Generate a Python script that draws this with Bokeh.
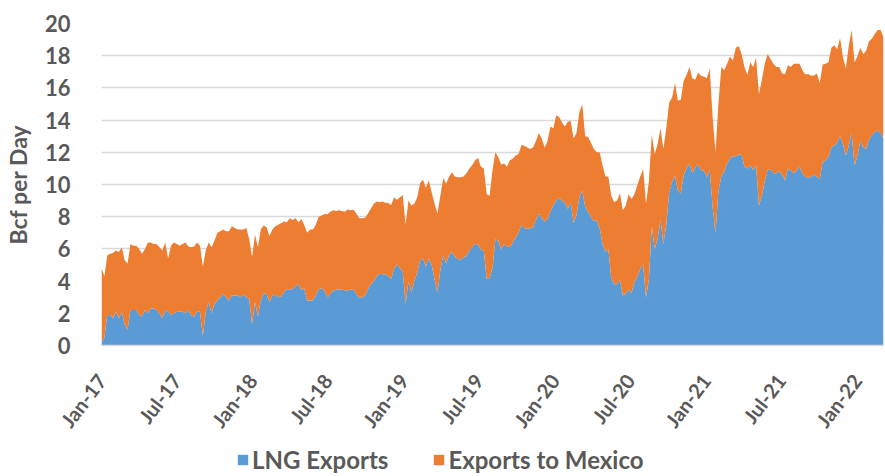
import numpy as np
import pandas as pd
from bokeh.plotting import figure
from bokeh.layouts import column
from bokeh.models import (ColumnDataSource, FixedTicker, Legend, LegendItem,
                          Range1d, DatetimeTickFormatter)
from bokeh.embed import file_html
from bokeh.resources import INLINE

# ---- data (weekly, Bcf per day) ----
first_week = "2017-01-01"

lng_exports = [
    0.2, 0.5, 1.9, 1.9, 1.7, 2.1, 1.7, 2.1, 1.3, 1.0,
    2.2, 2.2, 2.2, 1.9, 1.8, 2.2, 2.0, 2.3, 2.3, 2.2,
    2.0, 1.7, 2.2, 2.1, 1.9, 2.0, 2.1, 2.1, 2.1, 2.0,
    2.2, 1.85, 1.8, 2.1, 2.1, 0.6, 2.1, 2.7, 2.0, 2.6,
    2.8, 3.0, 3.2, 3.0, 2.8, 3.1, 3.1, 3.1, 3.0, 3.15,
    3.0, 2.9, 1.3, 2.7, 1.8, 2.8, 3.25, 3.2, 2.7, 3.1,
    3.15, 3.0, 3.05, 3.3, 3.5, 3.5, 3.5, 3.7, 3.8, 3.45,
    3.55, 2.8, 2.8, 2.8, 3.1, 3.5, 3.56, 3.4, 2.98, 3.2,
    3.4, 3.48, 3.5, 3.47, 3.43, 3.42, 3.48, 3.48, 3.2, 2.96,
    3.0, 3.1, 3.5, 3.8, 4.0, 4.3, 4.45, 4.42, 4.42, 4.3,
    4.15, 4.75, 5.05, 4.8, 4.6, 2.6, 4.0, 3.3, 4.0, 4.5,
    5.3, 5.4, 4.9, 5.4, 5.0, 4.1, 3.3, 4.7, 5.6, 5.1,
    5.6, 5.8, 5.5, 5.4, 5.3, 5.5, 5.55, 5.9, 6.1, 6.3,
    6.27, 5.94, 5.9, 4.15, 4.2, 4.8, 6.6, 6.5, 5.95, 6.3,
    6.15, 6.1, 6.4, 6.7, 7.0, 7.5, 7.3, 7.25, 7.28, 7.35,
    7.8, 8.2, 7.9, 7.7, 7.85, 8.3, 8.7, 9.0, 9.15, 9.0,
    8.85, 8.5, 8.9, 7.6, 8.1, 9.2, 9.63, 8.6, 8.3, 7.97,
    7.75, 7.76, 7.3, 6.3, 5.8, 6.0, 4.2, 3.8, 3.8, 4.08,
    3.1, 3.2, 3.5, 3.25, 3.93, 4.24, 4.74, 5.03, 3.0, 4.1,
    7.4, 6.0, 6.6, 7.8, 6.3, 7.5, 9.5, 10.15, 10.55, 9.63,
    9.46, 10.56, 11.0, 11.3, 10.7, 11.05, 11.24, 10.9, 10.85, 10.45,
    10.9, 8.6, 7.0, 9.6, 10.5, 10.8, 11.3, 11.6, 11.75, 11.75,
    11.85, 11.85, 11.1, 11.0, 11.2, 10.9, 11.2, 8.7, 9.3, 10.2,
    10.9, 10.95, 10.7, 10.7, 10.8, 10.6, 10.25, 11.0, 10.87, 10.7,
    10.85, 11.1, 10.7, 10.5, 10.4, 10.5, 10.6, 10.48, 10.35, 11.4,
    11.5, 11.7, 12.3, 12.42, 12.6, 13.0, 12.5, 11.8, 12.4, 13.2,
    11.2, 11.8, 12.7, 12.3, 12.2, 12.8, 13.04, 13.25, 13.35, 13.2,
    12.85,
]

# top of the stack (LNG + exports to Mexico)
total_exports = [
    4.8, 4.3, 5.6, 5.7, 5.75, 5.9, 5.8, 6.1, 5.3, 5.1,
    6.3, 6.2, 6.2, 6.0, 5.7, 6.0, 6.4, 6.4, 6.3, 6.3,
    6.1, 5.9, 6.4, 5.4, 6.2, 6.4, 6.3, 6.2, 6.3, 6.4,
    6.15, 6.1, 6.15, 6.4, 6.2, 4.9, 5.9, 6.4, 6.1, 6.5,
    7.0, 7.1, 7.2, 7.1, 7.1, 7.4, 7.3, 7.2, 7.2, 7.2,
    7.3, 6.6, 5.5, 6.9, 6.1, 7.2, 7.45, 7.35, 6.8, 7.2,
    7.4, 7.5, 7.6, 7.7, 7.65, 7.9, 7.8, 7.9, 7.65, 7.85,
    7.5, 7.0, 7.2, 7.2, 7.5, 8.0, 8.07, 8.17, 8.15, 8.3,
    8.4, 8.35, 8.4, 8.35, 8.3, 8.45, 8.4, 8.43, 8.2, 7.9,
    7.9, 7.93, 8.2, 8.5, 8.8, 8.95, 8.9, 8.95, 8.87, 8.85,
    8.72, 9.2, 9.05, 9.2, 9.35, 7.5, 9.0, 8.7, 8.8, 9.2,
    10.1, 10.3, 9.8, 10.25, 9.5, 8.8, 8.2, 9.3, 10.4, 10.05,
    10.5, 10.75, 10.5, 10.45, 10.45, 10.5, 10.7, 11.0, 11.2, 11.5,
    11.65, 11.1, 11.0, 9.4, 9.3, 10.9, 12.0, 11.7, 11.25, 11.3,
    11.1, 11.5, 11.6, 11.8, 11.9, 12.45, 12.4, 12.3, 12.2, 12.3,
    12.7, 13.2, 12.85, 12.3, 12.7, 13.6, 13.5, 14.3, 14.2, 13.85,
    13.6, 13.9, 13.95, 12.85, 13.2, 14.5, 14.97, 13.0, 12.95, 12.6,
    12.2, 12.0, 12.0, 11.2, 10.5, 10.5, 9.3, 8.9, 9.0, 9.46,
    8.4, 8.7, 9.4, 9.1, 9.4, 9.95, 10.5, 10.97, 8.8, 10.2,
    13.1, 11.9, 12.5, 13.5, 12.2, 13.5, 15.1, 15.4, 16.3, 15.2,
    15.26, 16.45, 16.8, 17.3, 16.6, 16.5, 16.95, 16.75, 16.7, 16.6,
    17.2, 14.2, 12.0, 15.0, 17.3, 17.1, 17.5, 17.95, 17.7, 18.5,
    18.6, 18.1, 17.3, 16.8, 17.6, 17.3, 17.85, 15.6, 16.5, 17.5,
    18.1, 17.8, 17.5, 17.3, 17.3, 16.9, 16.85, 17.4, 17.3, 17.5,
    17.5, 17.5, 17.1, 16.83, 16.87, 16.75, 16.77, 16.9, 16.3, 17.45,
    17.5, 17.6, 18.5, 18.65, 18.4, 19.1, 17.9, 17.2, 18.6, 19.6,
    17.6, 17.95, 18.5, 18.1, 18.3, 18.9, 19.05, 19.35, 19.6, 19.6,
    19.15,
]

series_names = ["LNG Exports", "Exports to Mexico"]
series_colors = ["#5B9BD5", "#ED7D31"]

tick_dates = ["2017-01-01", "2017-07-01", "2018-01-01", "2018-07-01",
              "2019-01-01", "2019-07-01", "2020-01-01", "2020-07-01",
              "2021-01-01", "2021-07-01", "2022-01-01"]
tick_labels = ["Jan-17", "Jul-17", "Jan-18", "Jul-18", "Jan-19", "Jul-19",
               "Jan-20", "Jul-20", "Jan-21", "Jul-21", "Jan-22"]
y_ticks = [0, 2, 4, 6, 8, 10, 12, 14, 16, 18, 20]

# ---- build ----
dates = pd.date_range(first_week, periods=len(lng_exports), freq="7D")
lng = np.array(lng_exports, dtype=float)
mexico = np.array(total_exports, dtype=float) - lng
src = ColumnDataSource(dict(date=dates, lng=lng, mexico=mexico))

FONT = "Lato"
GREY = "#595959"
W = 885

p = figure(width=W, height=444, x_axis_type="datetime",
           output_backend="svg", toolbar_location=None,
           x_range=Range1d(dates[0].to_pydatetime(), dates[-1].to_pydatetime()),
           y_range=Range1d(0, 20),
           min_border_left=95, min_border_right=2,
           min_border_top=23, min_border_bottom=99)

rs = p.varea_stack(["lng", "mexico"], x="date", source=src,
                   color=series_colors)

tick_ms = [int(pd.Timestamp(d).value // 10**6) for d in tick_dates]
p.xaxis.ticker = FixedTicker(ticks=tick_ms)
fmt = "%b-%y"
p.xaxis.formatter = DatetimeTickFormatter(
    microseconds=fmt, milliseconds=fmt, seconds=fmt, minsec=fmt, minutes=fmt,
    hourmin=fmt, hours=fmt, days=fmt, months=fmt, years=fmt)
p.xaxis.major_label_overrides = {ms: lab for ms, lab in zip(tick_ms, tick_labels)}
p.xaxis.major_label_orientation = 0.92
p.xaxis.major_label_standoff = 25
p.xaxis.axis_line_color = "#D9D9D9"
p.xaxis.axis_line_width = 1.5

p.yaxis.ticker = FixedTicker(ticks=y_ticks)
p.yaxis.axis_label = "Bcf per Day"
p.yaxis.axis_label_text_font = FONT
p.yaxis.axis_label_text_font_style = "bold"
p.yaxis.axis_label_text_font_size = "23px"
p.yaxis.axis_label_text_color = GREY
p.yaxis.axis_label_standoff = 10
p.yaxis.major_label_standoff = 25
p.yaxis.axis_line_color = None

for ax in (p.xaxis, p.yaxis):
    ax.major_tick_line_color = None
    ax.minor_tick_line_color = None
    ax.major_label_text_font = FONT
    ax.major_label_text_font_style = "bold"
    ax.major_label_text_color = GREY
p.yaxis.major_label_text_font_size = "22px"
p.xaxis.major_label_text_font_size = "20px"

p.xgrid.visible = False
p.ygrid.grid_line_color = "#D9D9D9"
p.ygrid.grid_line_width = 1.5
p.outline_line_color = None

# ---- legend strip below the chart (same series, drawn outside its view) ----
leg = figure(width=W, height=32, output_backend="svg", toolbar_location=None,
             x_range=Range1d(0, 1), y_range=Range1d(0, 1),
             x_axis_location=None, y_axis_location=None,
             min_border=0)
leg.grid.visible = False
leg.outline_line_color = None
swatches = leg.varea_stack(["lng", "mexico"], x="date", source=src,
                           color=series_colors)

# the strip's frame is aligned with the chart's frame (starts at x=95)
legend = Legend(items=[LegendItem(label=n, renderers=[r])
                       for n, r in zip(series_names, swatches)],
                orientation="horizontal", location=(135, 2),
                border_line_color=None, background_fill_alpha=0,
                glyph_width=13, glyph_height=13, label_standoff=3,
                spacing=44, padding=0, margin=0,
                label_text_font=FONT, label_text_font_style="bold",
                label_text_font_size="24px", label_text_color=GREY)
leg.add_layout(legend, "center")

open("out.html", "w").write(file_html(column(p, leg, spacing=0), INLINE))
